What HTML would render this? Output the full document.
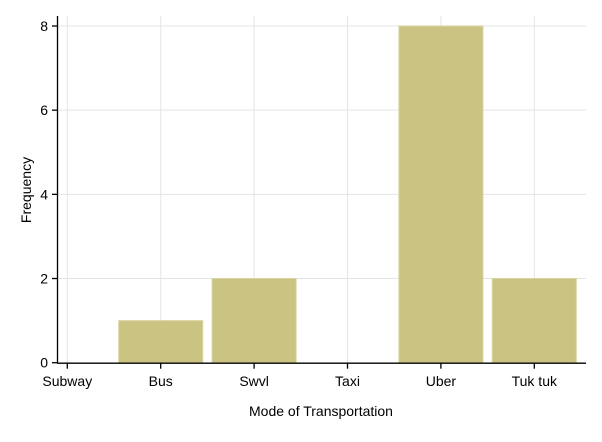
<!DOCTYPE html>
<html><head><meta charset="utf-8"><style>
body{margin:0;background:#fff;font-family:"Liberation Sans",Arial,sans-serif}
text{font-family:"Liberation Sans",Arial,sans-serif;fill:#000}
</style></head><body>
<svg id="chart" width="602" height="437"></svg>
<script>
const categories=["Subway","Bus","Swvl","Taxi","Uber","Tuk tuk"];
const values=[0,1,2,0,8,2];
const yTicks=[0,2,4,6,8];
const svg=document.getElementById('chart');
const NS='http://www.w3.org/2000/svg';
const x0=67.3, dx=93.4, bw=84;
const yBase=362.7, yPer=(362.7-26)/8;
const xs=i=>x0+i*dx;
const ys=v=>yBase-v*yPer;
function el(t,a,p){const e=document.createElementNS(NS,t);for(const k in a)e.setAttribute(k,a[k]);(p||svg).appendChild(e);return e;}
const grid=el('g',{});


yTicks.forEach(v=>{if(v>0)el('line',{x1:57,x2:586,y1:ys(v),y2:ys(v),stroke:'#e4e4e4','stroke-width':1},grid);});
categories.forEach((c,i)=>el('line',{x1:xs(i),x2:xs(i),y1:16,y2:yBase,stroke:'#e4e4e4','stroke-width':1},grid));
categories.forEach((c,i)=>{
  if(values[i]<=0)return;
  const r=el('rect',{x:xs(i)-bw/2,y:ys(values[i]),width:bw,height:yBase-ys(values[i]),fill:'#cac381',stroke:'#d8d3a0','stroke-width':1});
  
  
});
const ax=el('g',{});


el('line',{x1:57.5,x2:57.5,y1:16,y2:yBase+0.5,stroke:'#000','stroke-width':1.3},ax);
el('line',{x1:57,x2:586,y1:yBase+0.5,y2:yBase+0.5,stroke:'#000','stroke-width':1.3},ax);
yTicks.forEach(v=>{
  el('line',{x1:52,x2:57.5,y1:ys(v),y2:ys(v),stroke:'#000','stroke-width':1.3},ax);
  const t=el('text',{x:48,y:ys(v)+5,'text-anchor':'end','font-size':14},ax);t.textContent=v;
  
  
});
categories.forEach((c,i)=>{
  el('line',{x1:xs(i),x2:xs(i),y1:yBase,y2:yBase+6,stroke:'#000','stroke-width':1.3},ax);
  const t=el('text',{x:xs(i),y:386,'text-anchor':'middle','font-size':14},ax);t.textContent=c;
  
  
});
const xt=el('text',{x:321,y:416,'text-anchor':'middle','font-size':14});xt.textContent='Mode of Transportation';


const yt=el('text',{x:0,y:0,'text-anchor':'middle','font-size':14,transform:'translate(31,190) rotate(-90)'});yt.textContent='Frequency';


</script>
</body></html>
